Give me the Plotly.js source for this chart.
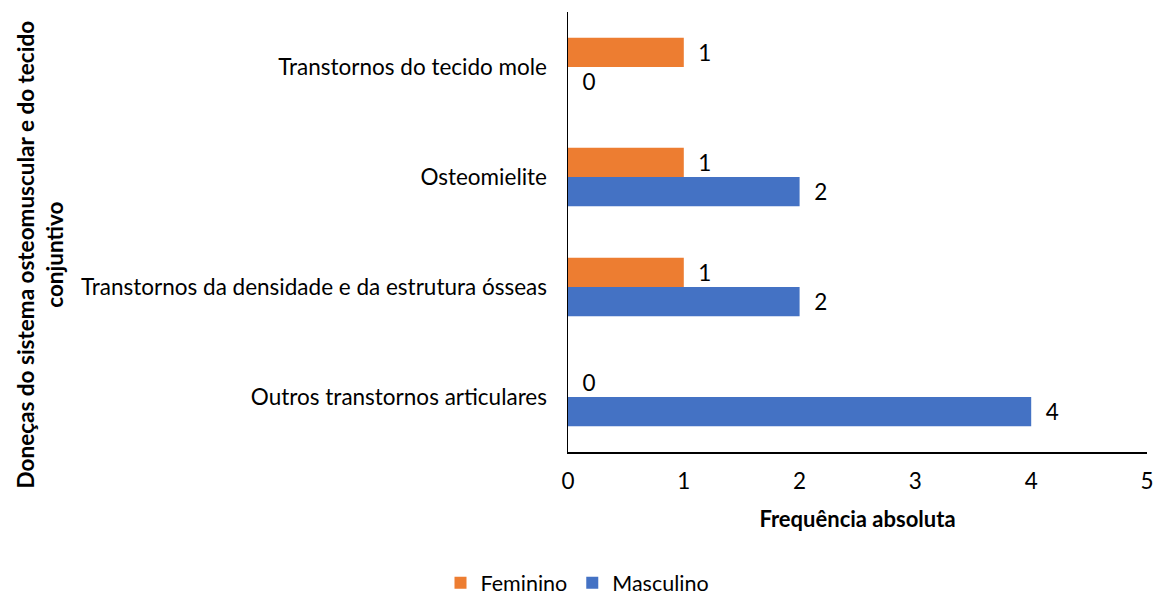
<!DOCTYPE html>
<html>
<head>
<meta charset="utf-8">
<script src="https://cdn.plot.ly/plotly-3.0.1.min.js"></script>
<style>
  html, body { margin: 0; padding: 0; background: #fff; }
  #chart { width: 1155px; height: 596px; }
</style>
</head>
<body>
<div id="chart"></div>
<script>
// categories listed bottom to top, as Plotly draws them
const categories = [
  "Outros transtornos articulares",
  "Transtornos da densidade e da estrutura ósseas",
  "Osteomielite",
  "Transtornos do tecido mole",
];
const feminino = [0, 1, 1, 1];
const masculino = [4, 2, 2, 0];
const xTicks = [0, 1, 2, 3, 4, 5];

const FONT = "Lato, 'Open Sans', sans-serif";
const SIZE = 22.5;
const pad = "\u00a0\u00a0";

const traces = [
  {
    name: "Masculino",
    type: "bar",
    orientation: "h",
    y: categories,
    x: masculino,
    marker: { color: "#4472C4" },
    text: masculino.map((v) => pad + v),
    textposition: "outside",
    cliponaxis: false,
    textfont: { family: FONT, size: SIZE, color: "#000" },
    hoverinfo: "x+name",
  },
  {
    name: "Feminino",
    type: "bar",
    orientation: "h",
    y: categories,
    x: feminino,
    marker: { color: "#ED7D31" },
    text: feminino.map((v) => pad + v),
    textposition: "outside",
    cliponaxis: false,
    textfont: { family: FONT, size: SIZE, color: "#000" },
    hoverinfo: "x+name",
  },
];

const layout = {
  width: 1155,
  height: 596,
  margin: { l: 568, r: 8, t: 12, b: 144, autoexpand: false },
  paper_bgcolor: "#fff",
  plot_bgcolor: "#fff",
  font: { family: FONT, size: SIZE, color: "#000" },
  barmode: "group",
  bargap: 0.47,
  bargroupgap: 0,
  showlegend: true,
  legend: {
    orientation: "h",
    traceorder: "reversed",
    xref: "container",
    yref: "container",
    x: 0.5,
    xanchor: "center",
    y: 0.022,
    yanchor: "middle",
    itemwidth: 30,
    font: { family: FONT, size: 21.5, color: "#000" },
  },
  xaxis: {
    range: [0, 5],
    tickvals: xTicks,
    showgrid: false,
    zeroline: false,
    showline: true,
    linecolor: "#000",
    linewidth: 1.5,
    ticks: "",
    ticklabelstandoff: 8,
    automargin: false,
    tickfont: { family: FONT, size: SIZE, color: "#000" },
    title: {
      text: "<b>Frequência absoluta</b>",
      font: { family: FONT, size: 22, color: "#000" },
      standoff: 19,
    },
    fixedrange: true,
  },
  yaxis: {
    showgrid: false,
    zeroline: false,
    showline: true,
    linecolor: "#000",
    linewidth: 1.5,
    ticks: "",
    ticklabelstandoff: 15,
    automargin: false,
    tickfont: { family: FONT, size: SIZE, color: "#000" },
    fixedrange: true,
  },
  annotations: [
    {
      text: "<b>Doneças do sistema osteomuscular e do tecido<br>conjuntivo</b>",
      xref: "paper",
      yref: "paper",
      x: -0.912,
      xanchor: "center",
      y: 0.449,
      yanchor: "middle",
      textangle: -90,
      showarrow: false,
      align: "center",
      font: { family: FONT, size: 22.5, color: "#000" },
    },
  ],
};

Plotly.newPlot("chart", traces, layout, { displayModeBar: false, staticPlot: true });
</script>
</body>
</html>
